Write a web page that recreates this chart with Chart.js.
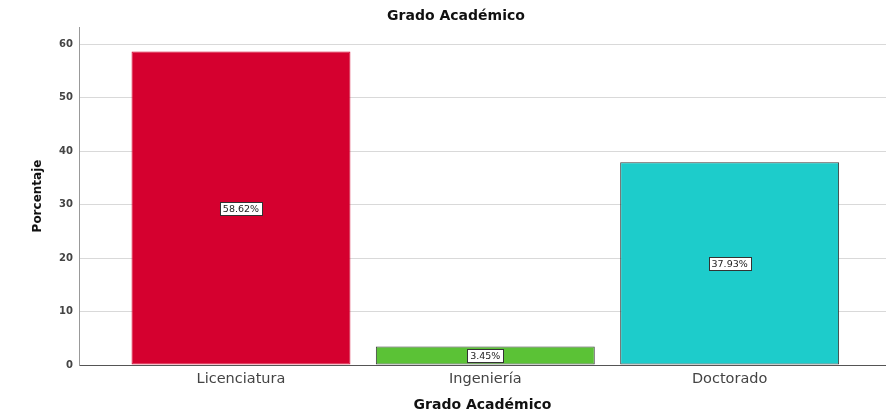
<!DOCTYPE html>
<html>
<head>
<meta charset="utf-8">
<script src="https://cdn.jsdelivr.net/npm/chart.js@4"></script>
<style>
    html, body { margin: 0; padding: 0; background: #fff; }
    #wrap { width: 886px; height: 418px; }
</style>
</head>
<body>
<div id="wrap"><canvas id="chart"></canvas></div>
<script>
const chartTitle = "Grado Académico";
const categories = ["Licenciatura", "Ingeniería", "Doctorado"];
const percentages = [58.62, 3.45, 37.93];
const yTicks = [0, 10, 20, 30, 40, 50, 60];
const barColors = ["#d5002f", "#5bc236", "#1dcccb"];
const barBorders = ["#d5002f", "#3a3a3a", "#3a3a3a"];

const font = "'DejaVu Sans', Verdana, sans-serif";

// white boxed labels in the middle of each bar, plus the chart title
const boxLabels = {
    id: "boxLabels",
    afterDatasetsDraw(chart) {
        const ctx = chart.ctx;
        const x = chart.scales.x;
        const y = chart.scales.y;
        ctx.save();
        ctx.font = "9.5px " + font;
        ctx.textAlign = "center";
        ctx.textBaseline = "middle";
        percentages.forEach((v, i) => {
            const text = v.toFixed(2) + "%";
            const cx = x.getPixelForValue(i);
            const cy = y.getPixelForValue(v / 2);
            const w = ctx.measureText(text).width + 6;
            const h = 13;
            ctx.fillStyle = "#fff";
            ctx.fillRect(Math.round(cx - w / 2) + 0.5, Math.round(cy - h / 2) + 0.5, Math.round(w), h);
            ctx.strokeStyle = "#333";
            ctx.lineWidth = 1;
            ctx.strokeRect(Math.round(cx - w / 2) + 0.5, Math.round(cy - h / 2) + 0.5, Math.round(w), h);
            ctx.fillStyle = "#222";
            ctx.fillText(text, cx, cy + 1);
        });

        ctx.font = "bold 14px " + font;
        ctx.fillStyle = "#111";
        ctx.fillText(chartTitle, chart.width / 2 + 13, 16);
        ctx.restore();
    },
};

new Chart(document.getElementById("chart"), {
    type: "bar",
    data: {
        datasets: [{
            data: percentages.map((v, i) => ({ x: i, y: v })),
            backgroundColor: barColors,
            borderColor: barBorders,
            borderWidth: 1,
            borderSkipped: false,
            categoryPercentage: 1,
            barPercentage: 0.896,
        }],
    },
    options: {
        responsive: true,
        maintainAspectRatio: false,
        animation: false,
        layout: { padding: { left: 0, right: 0, top: 27, bottom: 0 } },
        plugins: {
            legend: { display: false },
            tooltip: { enabled: false },
            title: { display: false },
        },
        scales: {
            x: {
                type: "linear",
                offset: false,
                min: -0.663,
                max: 2.64,
                afterBuildTicks(scale) {
                    scale.ticks = categories.map((c, i) => ({ value: i }));
                },
                afterFit(scale) {
                    scale.height = 53;
                },
                ticks: {
                    callback: (v) => categories[v],
                    color: "#444",
                    font: { family: font, size: 14.5 },
                    padding: 6,
                    maxRotation: 0,
                },
                grid: { display: false, drawTicks: false },
                border: { display: true, color: "#555", width: 1 },
                title: {
                    display: true,
                    text: "Grado Académico",
                    color: "#111",
                    font: { family: font, size: 14, weight: "bold" },
                    padding: { top: 0, bottom: 4 },
                },
            },
            y: {
                min: 0,
                max: 63.2,
                afterBuildTicks(scale) {
                    scale.ticks = yTicks.map((v) => ({ value: v }));
                },
                afterFit(scale) {
                    scale.width = 79;
                },
                ticks: {
                    color: "#444",
                    font: { family: font, size: 10, weight: "bold" },
                    padding: 6,
                },
                grid: { color: "#d9d9d9", drawTicks: false, lineWidth: 1 },
                border: { display: true, color: "#999", width: 1 },
                title: {
                    display: true,
                    text: "Porcentaje",
                    color: "#111",
                    font: { family: font, size: 12, weight: "bold" },
                    padding: { top: 31, bottom: 0 },
                },
            },
        },
    },
    plugins: [boxLabels],
});
</script>
</body>
</html>
